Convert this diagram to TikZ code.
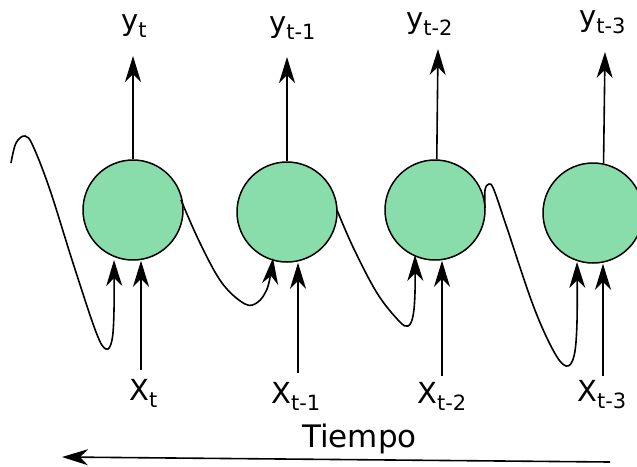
\documentclass[tikz,border=0pt]{standalone}
\usepackage{fontspec}
\setmainfont{DejaVu Sans}
\usetikzlibrary{arrows.meta}
\definecolor{cellgreen}{RGB}{136,221,170}
\newcommand\mainlab[2]{\fontsize{29}{29}\selectfont #1\raisebox{-7pt}{\fontsize{21}{21}\selectfont #2}}
\begin{document}
\begin{tikzpicture}[x=1pt,y=-1pt,
  cell/.style={circle,draw=black,line width=1.5pt,fill=cellgreen,minimum size=100pt,inner sep=0pt},
  arr/.style={line width=1.6pt,-{Stealth[length=26pt,width=16pt,inset=8pt]}},
  lab/.style={anchor=base west,inner sep=0pt}]
\useasboundingbox (0,0) rectangle (637,466);
\clip (0,0) rectangle (637,466);
% cells
\node[cell] (c1) at (133,210) {};
\node[cell] (c2) at (287,212) {};
\node[cell] (c3) at (435,210) {};
\node[cell] (c4) at (593,213) {};
% output labels
\node[lab] (y1) at (121,30) {\mainlab{y}{t}};
\node[lab] (y2) at (269,32) {\mainlab{y}{t-1}};
\node[lab] (y3) at (406,28) {\mainlab{y}{t-2}};
\node[lab] (y4) at (579,26) {\mainlab{y}{t-3}};
% input labels
\node[lab] (x1) at (129,400) {\mainlab{X}{t}};
\node[lab] (x2) at (271,403) {\mainlab{X}{t-1}};
\node[lab] (x3) at (417,403) {\mainlab{X}{t-2}};
\node[lab] (x4) at (577,401) {\mainlab{X}{t-3}};
\node[lab] (time) at (302,447) {\fontsize{31}{31}\selectfont Tiempo};
% output arrows
\coordinate (o1) at (133,56);
\coordinate (o2) at (287,57);
\coordinate (o3) at (438,49);
\coordinate (o4) at (605,52);
\draw[arr] (c1.north) -- (o1);
\draw[arr] (c2.north) -- (o2);
\draw[arr] (c3.88) -- (o3);
\draw[arr] (c4.78) -- (o4);
% straight input arrows
\coordinate (i1) at (141,370);
\coordinate (i2) at (298,373);
\coordinate (i3) at (442,376);
\coordinate (i4) at (603,376);
\draw[arr] (i1) -- (i1 |- c1.south);
\draw[arr] (i2) -- (i2 |- c2.south);
\draw[arr] (i3) -- (i3 |- c3.south);
\draw[arr] (i4) -- (i4 |- c4.south);
% recurrent curves
\coordinate (s1) at (11,163);
\coordinate (t1) at (114,260);
\coordinate (s2) at (181,200);
\coordinate (t2) at (273,258);
\coordinate (s3) at (337,210);
\coordinate (t3) at (415,255);
\coordinate (s4) at (485,208);
\coordinate (t4) at (577,262);
\draw[arr] plot[smooth,tension=0.6] coordinates {(s1) (16,143) (25,136) (33,146) (50,190) (73,263) (96,332) (106,349) (112,340) (114,310) (t1)};
\draw[arr] plot[smooth,tension=0.6] coordinates {(s2) (200,243) (222,283) (245,304) (258,302) (267,289) (271,272) (t2)};
\draw[arr] plot[smooth,tension=0.6] coordinates {(s3) (353,247) (377,293) (399,321) (408,326) (413,316) (415,292) (t3)};
\draw[arr] plot[smooth,tension=0.6] coordinates {(s4) (485,190) (489,184) (494,190) (507,228) (533,305) (553,350) (566,366) (574,356) (577,322) (t4)};
% time arrow
\coordinate (ts) at (610,462);
\coordinate (te) at (62,457);
\draw[arr] (ts) -- (te);
\end{tikzpicture}
\end{document}
